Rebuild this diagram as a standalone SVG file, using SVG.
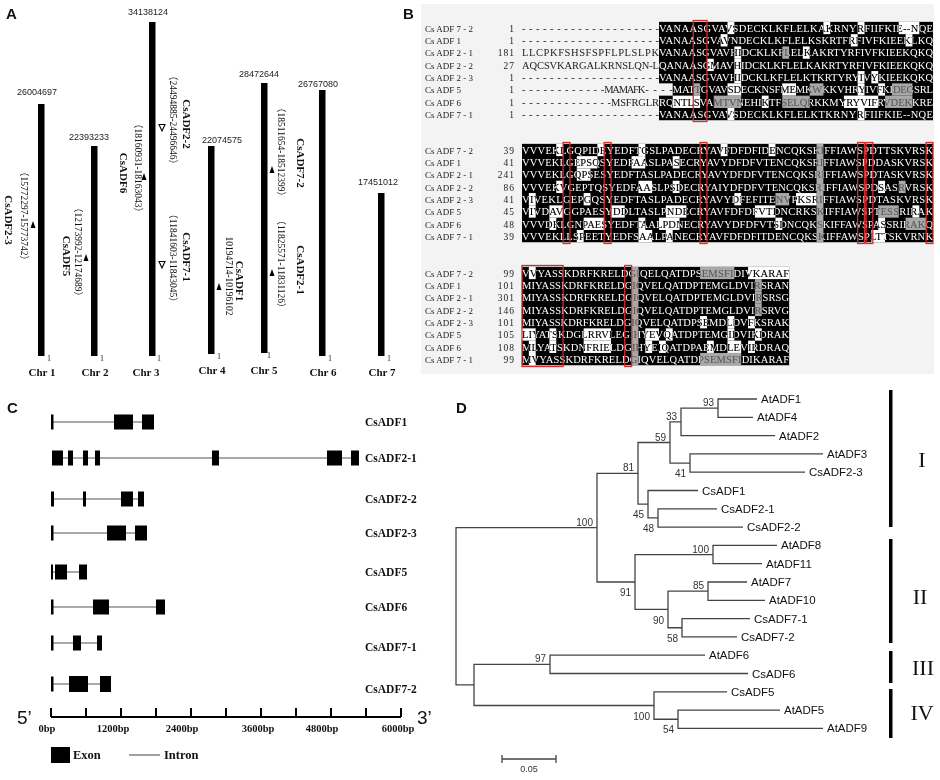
<svg xmlns="http://www.w3.org/2000/svg" width="940" height="780" viewBox="0 0 940 780">
<style>
text{font-family:"Liberation Serif","Times New Roman",serif}
.pl{font-family:"Liberation Sans",Arial,sans-serif;font-weight:bold;font-size:15px;fill:#111}
.top{font-family:"Liberation Sans",Arial,sans-serif;font-size:9px;fill:#222;text-anchor:middle}
.one{font-size:8px;fill:#222}
.chrl{font-size:11px;font-weight:bold;fill:#111;text-anchor:middle}
.bar{fill:#000}
.pos{font-family:"Liberation Serif","Noto Sans CJK SC",serif;font-size:9.5px;fill:#111;text-anchor:middle;dominant-baseline:central}
.gn{font-size:11px;font-weight:bold;fill:#111;text-anchor:middle;dominant-baseline:central}
.tri{fill:#000}
.htri{fill:#fff;stroke:#000;stroke-width:1.1}
.bgB{fill:#f3f3f3}
.blk{fill:#000}
.w{fill:#fff}
.g{fill:#a8a8a8}
.bgc{fill:#f3f3f3}
.nm{font-size:9px;fill:#222}
.num{font-size:9.5px;fill:#222;text-anchor:end;letter-spacing:1px}
.un{font-size:10.5px;fill:#222}
.sq{font-size:10.5px;fill:#fff;mix-blend-mode:difference}
.rb{fill:none;stroke:#d82a2a;stroke-width:1.3}
.intr{stroke:#555;stroke-width:1.1}
.exon{fill:#000}
.glab{font-size:11.5px;font-weight:bold;fill:#111}
.axis{stroke:#000;stroke-width:2.2}
.tick{stroke:#000;stroke-width:2}
.tl{font-size:10.5px;font-weight:bold;fill:#111;text-anchor:middle}
.end{font-family:"Liberation Sans",Arial,sans-serif;font-size:19px;fill:#111}
.leg{font-size:12.5px;font-weight:bold;fill:#111}
.br{fill:none;stroke:#444;stroke-width:1.3}
.lf{font-family:"Liberation Sans",Arial,sans-serif;font-size:11.5px;fill:#111}
.bs{font-family:"Liberation Sans",Arial,sans-serif;font-size:10px;fill:#333;text-anchor:end}
.gb{fill:#000}
.rn{font-size:22px;fill:#111;text-anchor:middle}
.sc{font-family:"Liberation Sans",Arial,sans-serif;font-size:9px;fill:#333;text-anchor:middle}
</style>

<!-- Panel A -->
<g id="panelA">
<text class="pl" x="6" y="19">A</text>
<g id="chr1"><rect class="bar" x="38" y="104" width="6.5" height="252"/><text class="top" x="37" y="95">26004697</text><text class="one" x="47" y="361">1</text><text class="chrl" x="42" y="376">Chr 1</text></g>
<g id="chr2"><rect class="bar" x="91" y="146" width="6.5" height="210"/><text class="top" x="89" y="140">22393233</text><text class="one" x="100" y="361">1</text><text class="chrl" x="95" y="376">Chr 2</text></g>
<g id="chr3"><rect class="bar" x="149" y="22" width="6.5" height="334"/><text class="top" x="148" y="15">34138124</text><text class="one" x="157" y="361">1</text><text class="chrl" x="146" y="376">Chr 3</text></g>
<g id="chr4"><rect class="bar" x="208" y="146" width="6.5" height="208"/><text class="top" x="222" y="143">22074575</text><text class="one" x="217" y="359">1</text><text class="chrl" x="212" y="374">Chr 4</text></g>
<g id="chr5"><rect class="bar" x="261" y="83" width="6.5" height="270"/><text class="top" x="259" y="77">28472644</text><text class="one" x="267" y="358">1</text><text class="chrl" x="264" y="374">Chr 5</text></g>
<g id="chr6"><rect class="bar" x="319" y="90" width="6.5" height="266"/><text class="top" x="318" y="87">26767080</text><text class="one" x="328" y="361">1</text><text class="chrl" x="323" y="376">Chr 6</text></g>
<g id="chr7"><rect class="bar" x="378" y="193" width="6.5" height="163"/><text class="top" x="378" y="185">17451012</text><text class="one" x="387" y="361">1</text><text class="chrl" x="382" y="376">Chr 7</text></g>

<g id="loc-CsADF2-3"><polygon class="tri" points="33,221 30.5,228 35.5,228"/><text class="pos" transform="translate(24,216) rotate(90)">（15772297-15773742）</text><text class="gn" transform="translate(9,220) rotate(90)">CsADF2-3</text></g>
<g id="loc-CsADF5"><polygon class="tri" points="86,254 83.5,261 88.5,261"/><text class="pos" transform="translate(78,252) rotate(90)">（12173992-12174689）</text><text class="gn" transform="translate(67,256) rotate(90)">CsADF5</text></g>
<g id="loc-CsADF6"><polygon class="tri" points="144,173 141.5,180 146.5,180"/><text class="pos" transform="translate(138,168) rotate(90)">（18160931-18163043）</text><text class="gn" transform="translate(124,173) rotate(90)">CsADF6</text></g>
<g id="loc-CsADF2-2"><polygon class="htri" points="159,124.5 165,124.5 162,131"/><text class="pos" transform="translate(173,120) rotate(90)">（24494885-24496646）</text><text class="gn" transform="translate(187,124) rotate(90)">CsADF2-2</text></g>
<g id="loc-CsADF7-1"><polygon class="htri" points="159,261.5 165,261.5 162,268"/><text class="pos" transform="translate(173,258) rotate(90)">（11841603-11843045）</text><text class="gn" transform="translate(187,257) rotate(90)">CsADF7-1</text></g>
<g id="loc-CsADF1"><polygon class="tri" points="219,283 216.5,290 221.5,290"/><text class="pos" transform="translate(229,276) rotate(90)">10194714-10196102</text><text class="gn" transform="translate(240,281) rotate(90)">CsADF1</text></g>
<g id="loc-CsADF7-2"><polygon class="tri" points="272,166 269.5,173 274.5,173"/><text class="pos" transform="translate(281,152) rotate(90)">（18511654-18512399）</text><text class="gn" transform="translate(301,163) rotate(90)">CsADF7-2</text></g>
<g id="loc-CsADF2-1"><polygon class="tri" points="272,269 269.5,276 274.5,276"/><text class="pos" transform="translate(281,264) rotate(90)">（11825571-11831126）</text><text class="gn" transform="translate(301,270) rotate(90)">CsADF2-1</text></g>
</g>

<!-- Panel B -->
<g id="panelB">
<text class="pl" x="403" y="19">B</text>
<rect class="bgB" x="421" y="4" width="513" height="370"/>
<!-- block 1 shading -->
<rect class="blk" x="659" y="21.85" width="274" height="98.4"/>
<rect class="w" x="727.5" y="21.85" width="6.85" height="12.3"/><rect class="w" x="823.4" y="21.85" width="6.85" height="12.3"/><rect class="w" x="857.65" y="21.85" width="6.85" height="12.3"/><rect class="w" x="898.75" y="21.85" width="20.55" height="12.3"/>
<rect class="w" x="720.65" y="34.15" width="6.85" height="12.3"/><rect class="w" x="850.8" y="34.15" width="6.85" height="12.3"/><rect class="w" x="905.6" y="34.15" width="6.85" height="12.3"/>
<rect class="w" x="734.35" y="46.45" width="6.85" height="12.3"/><rect class="g" x="782.3" y="46.45" width="6.85" height="12.3"/><rect class="w" x="802.85" y="46.45" width="6.85" height="12.3"/>
<rect class="w" x="706.95" y="58.75" width="6.85" height="12.3"/><rect class="w" x="734.35" y="58.75" width="6.85" height="12.3"/>
<rect class="w" x="734.35" y="71.05" width="6.85" height="12.3"/><rect class="w" x="857.65" y="71.05" width="6.85" height="12.3"/><rect class="w" x="871.35" y="71.05" width="6.85" height="12.3"/>
<rect class="bgc" x="659" y="83.35" width="13.7" height="12.3"/><rect class="g" x="693.25" y="83.35" width="6.85" height="12.3"/><rect class="w" x="727.5" y="83.35" width="13.7" height="12.3"/><rect class="w" x="782.3" y="83.35" width="13.7" height="12.3"/><rect class="g" x="809.7" y="83.35" width="13.7" height="12.3"/><rect class="w" x="857.65" y="83.35" width="6.85" height="12.3"/><rect class="w" x="878.2" y="83.35" width="6.85" height="12.3"/><rect class="g" x="891.9" y="83.35" width="20.55" height="12.3"/>
<rect class="w" x="672.7" y="95.65" width="27.4" height="12.3"/><rect class="g" x="713.8" y="95.65" width="27.4" height="12.3"/><rect class="w" x="761.75" y="95.65" width="6.85" height="12.3"/><rect class="g" x="782.3" y="95.65" width="27.4" height="12.3"/><rect class="w" x="843.95" y="95.65" width="34.25" height="12.3"/><rect class="g" x="885.05" y="95.65" width="27.4" height="12.3"/>
<rect class="w" x="727.5" y="107.95" width="6.85" height="12.3"/><rect class="w" x="857.65" y="107.95" width="6.85" height="12.3"/>
<!-- block 2 shading -->
<rect class="blk" x="522" y="143.85" width="411" height="98.4"/>
<rect class="g" x="816.55" y="143.85" width="6.85" height="98.4"/>
<rect class="w" x="556.25" y="143.85" width="6.85" height="12.3"/><rect class="w" x="597.35" y="143.85" width="6.85" height="12.3"/><rect class="w" x="638.45" y="143.85" width="6.85" height="12.3"/><rect class="w" x="720.65" y="143.85" width="6.85" height="12.3"/><rect class="w" x="768.6" y="143.85" width="6.85" height="12.3"/>
<rect class="w" x="576.8" y="156.15" width="20.55" height="12.3"/><rect class="w" x="631.6" y="156.15" width="13.7" height="12.3"/><rect class="w" x="672.7" y="156.15" width="6.85" height="12.3"/>
<rect class="w" x="576.8" y="168.45" width="13.7" height="12.3"/>
<rect class="w" x="556.25" y="180.75" width="6.85" height="12.3"/><rect class="w" x="638.45" y="180.75" width="13.7" height="12.3"/><rect class="w" x="672.7" y="180.75" width="6.85" height="12.3"/><rect class="w" x="878.2" y="180.75" width="6.85" height="12.3"/><rect class="g" x="898.75" y="180.75" width="6.85" height="12.3"/>
<rect class="w" x="528.85" y="193.05" width="6.85" height="12.3"/><rect class="w" x="583.65" y="193.05" width="6.85" height="12.3"/><rect class="w" x="734.35" y="193.05" width="6.85" height="12.3"/><rect class="g" x="775.45" y="193.05" width="13.7" height="12.3"/><rect class="w" x="796" y="193.05" width="20.55" height="12.3"/>
<rect class="w" x="528.85" y="205.35" width="6.85" height="12.3"/><rect class="w" x="549.4" y="205.35" width="13.7" height="12.3"/><rect class="w" x="611.05" y="205.35" width="13.7" height="12.3"/><rect class="w" x="665.85" y="205.35" width="20.55" height="12.3"/><rect class="w" x="754.9" y="205.35" width="20.55" height="12.3"/><rect class="g" x="878.2" y="205.35" width="20.55" height="12.3"/><rect class="w" x="912.45" y="205.35" width="6.85" height="12.3"/>
<rect class="w" x="549.4" y="217.65" width="6.85" height="12.3"/><rect class="w" x="583.65" y="217.65" width="20.55" height="12.3"/><rect class="w" x="638.45" y="217.65" width="6.85" height="12.3"/><rect class="w" x="659" y="217.65" width="20.55" height="12.3"/><rect class="w" x="775.45" y="217.65" width="6.85" height="12.3"/><rect class="w" x="878.2" y="217.65" width="6.85" height="12.3"/><rect class="g" x="905.6" y="217.65" width="20.55" height="12.3"/>
<rect class="w" x="576.8" y="229.95" width="6.85" height="12.3"/><rect class="w" x="638.45" y="229.95" width="13.7" height="12.3"/><rect class="w" x="665.85" y="229.95" width="6.85" height="12.3"/><rect class="w" x="871.35" y="229.95" width="13.7" height="12.3"/>
<!-- block 3 shading -->
<rect class="blk" x="522" y="266.85" width="267.15" height="98.4"/>
<rect class="g" x="631.6" y="266.85" width="6.85" height="98.4"/>
<rect class="w" x="528.85" y="266.85" width="6.85" height="12.3"/><rect class="g" x="700.1" y="266.85" width="34.25" height="12.3"/><rect class="w" x="748.05" y="266.85" width="41.1" height="12.3"/>
<rect class="g" x="754.9" y="279.15" width="6.85" height="12.3"/><rect class="g" x="754.9" y="291.45" width="6.85" height="12.3"/><rect class="g" x="754.9" y="303.75" width="6.85" height="12.3"/>
<rect class="w" x="700.1" y="316.05" width="6.85" height="12.3"/><rect class="w" x="727.5" y="316.05" width="6.85" height="12.3"/><rect class="w" x="748.05" y="316.05" width="6.85" height="12.3"/>
<rect class="w" x="522" y="328.35" width="13.7" height="12.3"/><rect class="w" x="549.4" y="328.35" width="6.85" height="12.3"/><rect class="w" x="583.65" y="328.35" width="27.4" height="12.3"/><rect class="w" x="645.3" y="328.35" width="13.7" height="12.3"/><rect class="w" x="665.85" y="328.35" width="6.85" height="12.3"/><rect class="w" x="727.5" y="328.35" width="6.85" height="12.3"/><rect class="w" x="754.9" y="328.35" width="6.85" height="12.3"/>
<rect class="w" x="528.85" y="340.65" width="6.85" height="12.3"/><rect class="w" x="549.4" y="340.65" width="6.85" height="12.3"/><rect class="w" x="583.65" y="340.65" width="27.4" height="12.3"/><rect class="w" x="645.3" y="340.65" width="6.85" height="12.3"/><rect class="w" x="659" y="340.65" width="6.85" height="12.3"/><rect class="w" x="706.95" y="340.65" width="6.85" height="12.3"/><rect class="w" x="727.5" y="340.65" width="13.7" height="12.3"/><rect class="w" x="748.05" y="340.65" width="6.85" height="12.3"/>
<rect class="w" x="528.85" y="352.95" width="6.85" height="12.3"/><rect class="g" x="700.1" y="352.95" width="41.1" height="12.3"/>

<!-- block 1 text -->
<text class="nm" x="425" y="31.7">Cs ADF 7 - 2</text><text class="num" x="515" y="31.7">1</text><text class="un" x="522" y="31.7" textLength="137" lengthAdjust="spacing">--------------------</text><text class="sq" x="659" y="31.7" textLength="274" lengthAdjust="spacing">VANAASGVAVSDECKLKFLELKAKRNYRFIIFKIE--NQE</text>
<text class="nm" x="425" y="44">Cs ADF 1</text><text class="num" x="515" y="44">1</text><text class="un" x="522" y="44" textLength="137" lengthAdjust="spacing">--------------------</text><text class="sq" x="659" y="44" textLength="274" lengthAdjust="spacing">VANAASGVAVNDECKLKFLELKSKRTFRFIVFKIEEKLKQ</text>
<text class="nm" x="425" y="56.3">Cs ADF 2 - 1</text><text class="num" x="515" y="56.3">181</text><text class="un" x="522" y="56.3" textLength="137" lengthAdjust="spacing">LLCPKFSHSFSPFLPLSLPK</text><text class="sq" x="659" y="56.3" textLength="274" lengthAdjust="spacing">VANAASGVAVHIDCKLKFLELKAKRTYRFIVFKIEEKQKQ</text>
<text class="nm" x="425" y="68.6">Cs ADF 2 - 2</text><text class="num" x="515" y="68.6">27</text><text class="un" x="522" y="68.6" textLength="137" lengthAdjust="spacing">AQCSVKARGALKRNSLQN-L</text><text class="sq" x="659" y="68.6" textLength="274" lengthAdjust="spacing">QANAASGMAVHIDCKLKFLELKAKRTYRFIVFKIEEKQKQ</text>
<text class="nm" x="425" y="80.9">Cs ADF 2 - 3</text><text class="num" x="515" y="80.9">1</text><text class="un" x="522" y="80.9" textLength="137" lengthAdjust="spacing">--------------------</text><text class="sq" x="659" y="80.9" textLength="274" lengthAdjust="spacing">VANAASGVAVHIDCKLKFLELKTKRTYRYIVYKIEEKQKQ</text>
<text class="nm" x="425" y="93.2">Cs ADF 5</text><text class="num" x="515" y="93.2">1</text><text class="un" x="522" y="93.2" textLength="82.2" lengthAdjust="spacing">------------</text><text class="un" x="604.2" y="93.2" textLength="41.1" lengthAdjust="spacing">MAMAFK</text><text class="un" x="645.3" y="93.2" textLength="27.4" lengthAdjust="spacing">----</text><text class="sq" x="672.7" y="93.2" textLength="260.3" lengthAdjust="spacing">MATTGVAVSDECKNSFMEMKWKKVHRYIVFKIDEGSRL</text>
<text class="nm" x="425" y="105.5">Cs ADF 6</text><text class="num" x="515" y="105.5">1</text><text class="un" x="522" y="105.5" textLength="89.05" lengthAdjust="spacing">-------------</text><text class="un" x="611.05" y="105.5" textLength="47.95" lengthAdjust="spacing">MSFRGLR</text><text class="sq" x="659" y="105.5" textLength="274" lengthAdjust="spacing">RQNTLSVAMTVNEHIKTFSELQRKKMYRYVIFRVDEKKRE</text>
<text class="nm" x="425" y="117.8">Cs ADF 7 - 1</text><text class="num" x="515" y="117.8">1</text><text class="un" x="522" y="117.8" textLength="137" lengthAdjust="spacing">--------------------</text><text class="sq" x="659" y="117.8" textLength="274" lengthAdjust="spacing">VANAASGVAVSDECKLKFLELKTKRNYRFIIFKIE--NQE</text>
<!-- block 2 text -->
<text class="nm" x="425" y="153.7">Cs ADF 7 - 2</text><text class="num" x="515" y="153.7">39</text><text class="sq" x="522" y="153.7" textLength="411" lengthAdjust="spacing">VVVEKLGQPIDEYEDFTGSLPADECRYAVFDFDFIDENCQKSKIFFIAWSPDTTSKVRSK</text>
<text class="nm" x="425" y="166">Cs ADF 1</text><text class="num" x="515" y="166">41</text><text class="sq" x="522" y="166" textLength="411" lengthAdjust="spacing">VVVEKLGEPSQSYEDFAASLPASECRYAVYDFDFVTENCQKSRIFFIAWSPDDASKVRSK</text>
<text class="nm" x="425" y="178.3">Cs ADF 2 - 1</text><text class="num" x="515" y="178.3">241</text><text class="sq" x="522" y="178.3" textLength="411" lengthAdjust="spacing">VVVEKLGQPSESYEDFTASLPADECRYAVYDFDFVTENCQKSRIFFIAWSPDTASKVRSK</text>
<text class="nm" x="425" y="190.6">Cs ADF 2 - 2</text><text class="num" x="515" y="190.6">86</text><text class="sq" x="522" y="190.6" textLength="411" lengthAdjust="spacing">VVVEKVGEPTQSYEDFAASLPSDECRYAIYDFDFVTENCQKSRIFFIAWSPDSASRVRSK</text>
<text class="nm" x="425" y="202.9">Cs ADF 2 - 3</text><text class="num" x="515" y="202.9">41</text><text class="sq" x="522" y="202.9" textLength="411" lengthAdjust="spacing">VIVEKLGEPGQSYEDFTASLPADECRYAVYDFEFITENVPKSRIFFIAWSPDTASKVRSK</text>
<text class="nm" x="425" y="215.2">Cs ADF 5</text><text class="num" x="515" y="215.2">45</text><text class="sq" x="522" y="215.2" textLength="411" lengthAdjust="spacing">VIVDAVGGPAESYDDLTASLPNDECRYAVFDFDFVTDNCRKSKIFFIAWSPTESSRIRAK</text>
<text class="nm" x="425" y="227.5">Cs ADF 6</text><text class="num" x="515" y="227.5">48</text><text class="sq" x="522" y="227.5" textLength="411" lengthAdjust="spacing">VVVDKLGNPAESYEDFTAALPDNECRYAVYDFDFVTSDNCQKSKIFFAWSPASSRIRAKQ</text>
<text class="nm" x="425" y="239.8">Cs ADF 7 - 1</text><text class="num" x="515" y="239.8">39</text><text class="sq" x="522" y="239.8" textLength="411" lengthAdjust="spacing">VVVEKLLSPEETYEDFSAALPANECRYAVFDFDFITDENCQKSKIFFAWSPLTTSKVRNK</text>
<!-- block 3 text -->
<text class="nm" x="425" y="276.7">Cs ADF 7 - 2</text><text class="num" x="515" y="276.7">99</text><text class="sq" x="522" y="276.7" textLength="267.15" lengthAdjust="spacing">VVYASSKDRFKRELDGIQELQATDPSEMSFIDIVKARAF</text>
<text class="nm" x="425" y="289">Cs ADF 1</text><text class="num" x="515" y="289">101</text><text class="sq" x="522" y="289" textLength="267.15" lengthAdjust="spacing">MIYASSKDRFKRELDGIQVELQATDPTEMGLDVIRSRAN</text>
<text class="nm" x="425" y="301.3">Cs ADF 2 - 1</text><text class="num" x="515" y="301.3">301</text><text class="sq" x="522" y="301.3" textLength="267.15" lengthAdjust="spacing">MIYASSKDRFKRELDGIQVELQATDPTEMGLDVIRSRSG</text>
<text class="nm" x="425" y="313.6">Cs ADF 2 - 2</text><text class="num" x="515" y="313.6">146</text><text class="sq" x="522" y="313.6" textLength="267.15" lengthAdjust="spacing">MIYASSKDRFKRELDGIQVELQATDPTEMGLDVIRSRVG</text>
<text class="nm" x="425" y="325.9">Cs ADF 2 - 3</text><text class="num" x="515" y="325.9">101</text><text class="sq" x="522" y="325.9" textLength="267.15" lengthAdjust="spacing">MIYASSKDRFKRELDGIQVELQATDPSEMDLDVFKSRAK</text>
<text class="nm" x="425" y="338.2">Cs ADF 5</text><text class="num" x="515" y="338.2">105</text><text class="sq" x="522" y="338.2" textLength="267.15" lengthAdjust="spacing">LIYATSKDGLRRVLEGIHYEVQATDPTEMGIDVIKDRAK</text>
<text class="nm" x="425" y="350.5">Cs ADF 6</text><text class="num" x="515" y="350.5">108</text><text class="sq" x="522" y="350.5" textLength="267.15" lengthAdjust="spacing">MLYATSKDNFRIELDGIHYEIQATDPAEMDLEVIRDRAQ</text>
<text class="nm" x="425" y="362.8">Cs ADF 7 - 1</text><text class="num" x="515" y="362.8">99</text><text class="sq" x="522" y="362.8" textLength="267.15" lengthAdjust="spacing">MVYASSKDRFKRELDGIQVELQATDPSEMSFIDIKARAF</text>
<!-- red boxes -->
<rect class="rb" x="693.25" y="20.5" width="13.7" height="101"/>
<rect class="rb" x="563.1" y="142.5" width="6.85" height="101"/>
<rect class="rb" x="604.2" y="142.5" width="6.85" height="101"/>
<rect class="rb" x="700.1" y="142.5" width="6.85" height="101"/>
<rect class="rb" x="857.65" y="142.5" width="6.85" height="101"/>
<rect class="rb" x="866" y="142.5" width="6.85" height="101"/>
<rect class="rb" x="926.15" y="142.5" width="6.85" height="101"/>
<rect class="rb" x="522" y="265.5" width="41.1" height="101"/>
<rect class="rb" x="624.75" y="265.5" width="6.85" height="101"/>
</g>

<!-- Panel C -->
<g id="panelC">
<text class="pl" x="7" y="413">C</text>
<g id="gene-CsADF1"><line class="intr" x1="52" y1="422" x2="154" y2="422"/><rect class="exon" x="51" y="414.5" width="2.5" height="15"/><rect class="exon" x="114" y="414.5" width="19" height="15"/><rect class="exon" x="142" y="414.5" width="12" height="15"/><text class="glab" x="365" y="426">CsADF1</text></g>
<g id="gene-CsADF2-1"><line class="intr" x1="52" y1="458" x2="359" y2="458"/><rect class="exon" x="52" y="450.5" width="11" height="15"/><rect class="exon" x="68" y="450.5" width="5" height="15"/><rect class="exon" x="83" y="450.5" width="5" height="15"/><rect class="exon" x="95" y="450.5" width="5" height="15"/><rect class="exon" x="212" y="450.5" width="7" height="15"/><rect class="exon" x="327" y="450.5" width="15" height="15"/><rect class="exon" x="351" y="450.5" width="8" height="15"/><text class="glab" x="365" y="462">CsADF2-1</text></g>
<g id="gene-CsADF2-2"><line class="intr" x1="51" y1="499" x2="144" y2="499"/><rect class="exon" x="51" y="491.5" width="3" height="15"/><rect class="exon" x="83" y="491.5" width="3" height="15"/><rect class="exon" x="121" y="491.5" width="12" height="15"/><rect class="exon" x="138" y="491.5" width="6" height="15"/><text class="glab" x="365" y="503">CsADF2-2</text></g>
<g id="gene-CsADF2-3"><line class="intr" x1="51" y1="533" x2="147" y2="533"/><rect class="exon" x="51" y="525.5" width="2.5" height="15"/><rect class="exon" x="107" y="525.5" width="19" height="15"/><rect class="exon" x="135" y="525.5" width="12" height="15"/><text class="glab" x="365" y="537">CsADF2-3</text></g>
<g id="gene-CsADF5"><line class="intr" x1="51" y1="572" x2="87" y2="572"/><rect class="exon" x="51" y="564.5" width="2" height="15"/><rect class="exon" x="55" y="564.5" width="12" height="15"/><rect class="exon" x="79" y="564.5" width="8" height="15"/><text class="glab" x="365" y="576">CsADF5</text></g>
<g id="gene-CsADF6"><line class="intr" x1="51" y1="607" x2="165" y2="607"/><rect class="exon" x="51" y="599.5" width="2.5" height="15"/><rect class="exon" x="93" y="599.5" width="16" height="15"/><rect class="exon" x="156" y="599.5" width="9" height="15"/><text class="glab" x="365" y="611">CsADF6</text></g>
<g id="gene-CsADF7-1"><line class="intr" x1="51" y1="643" x2="102" y2="643"/><rect class="exon" x="51" y="635.5" width="2.5" height="15"/><rect class="exon" x="73" y="635.5" width="8" height="15"/><rect class="exon" x="97" y="635.5" width="5" height="15"/><text class="glab" x="365" y="651">CsADF7-1</text></g>
<g id="gene-CsADF7-2"><line class="intr" x1="51" y1="684" x2="111" y2="684"/><rect class="exon" x="51" y="676.5" width="2.5" height="15"/><rect class="exon" x="69" y="676" width="19" height="16"/><rect class="exon" x="100" y="676" width="11" height="16"/><text class="glab" x="365" y="693">CsADF7-2</text></g>
<g id="scale-axis">
<line class="axis" x1="51" y1="717" x2="401" y2="717"/>
<path class="tick" d="M51 708V717M86 708V717M121 708V717M156 708V717M191 708V717M226 708V717M261 708V717M296 708V717M331 708V717M366 708V717M401 708V717"/>
<text class="end" x="17" y="724">5’</text><text class="end" x="417" y="724">3’</text>
<text class="tl" x="47" y="732">0bp</text><text class="tl" x="113" y="732">1200bp</text><text class="tl" x="182" y="732">2400bp</text><text class="tl" x="258" y="732">3600bp</text><text class="tl" x="322" y="732">4800bp</text><text class="tl" x="398" y="732">6000bp</text>
</g>
<g id="legend">
<rect class="exon" x="51" y="747" width="19" height="16"/><text class="leg" x="73" y="759">Exon</text>
<line class="intr" x1="129" y1="755" x2="160" y2="755"/><text class="leg" x="164" y="759">Intron</text>
</g>
</g>

<!-- Panel D -->
<g id="panelD">
<text class="pl" x="456" y="413">D</text>
<g id="connectors">
<path class="br" d="M757 399H718V417.3H753M718 408.15H681V435.6H775M823 453.9H690V472.2H805M681 421.9H670V463.05H690M717 508.8H658V527.1H743M698 490.5H648V517.95H658M670 442.5H638V504.2H648M777 545.4H713V563.7H762M747 582H708V600.3H765M750 618.6H682V636.9H737M708 591.15H668V627.75H682M713 554.55H635V609.45H668M638 473.35H597V582H635M705 655.2H550V673.5H748M780 710.1H678V728.4H823M727 691.8H654V719.25H678M550 664.35H474V705.5H654M597 527.7H456V684.9H474"/>
</g>
<g id="bootstrap">
<text class="bs" x="714" y="406">93</text><text class="bs" x="677" y="420">33</text><text class="bs" x="666" y="440.5">59</text><text class="bs" x="686" y="477">41</text><text class="bs" x="634" y="471">81</text><text class="bs" x="644" y="518">45</text><text class="bs" x="654" y="532">48</text><text class="bs" x="593" y="525.7">100</text><text class="bs" x="709" y="552.5">100</text><text class="bs" x="704" y="589">85</text><text class="bs" x="631" y="596">91</text><text class="bs" x="664" y="623.5">90</text><text class="bs" x="678" y="641.5">58</text><text class="bs" x="546" y="662">97</text><text class="bs" x="650" y="719.5">100</text><text class="bs" x="674" y="733">54</text>
</g>
<g id="leaf-AtADF1"><text class="lf" x="761" y="403">AtADF1</text></g>
<g id="leaf-AtADF4"><text class="lf" x="757" y="421.3">AtADF4</text></g>
<g id="leaf-AtADF2"><text class="lf" x="779" y="439.6">AtADF2</text></g>
<g id="leaf-AtADF3"><text class="lf" x="827" y="457.9">AtADF3</text></g>
<g id="leaf-CsADF2-3"><text class="lf" x="809" y="476.2">CsADF2-3</text></g>
<g id="leaf-CsADF1"><text class="lf" x="702" y="494.5">CsADF1</text></g>
<g id="leaf-CsADF2-1"><text class="lf" x="721" y="512.8">CsADF2-1</text></g>
<g id="leaf-CsADF2-2"><text class="lf" x="747" y="531.1">CsADF2-2</text></g>
<g id="leaf-AtADF8"><text class="lf" x="781" y="549.4">AtADF8</text></g>
<g id="leaf-AtADF11"><text class="lf" x="766" y="567.7">AtADF11</text></g>
<g id="leaf-AtADF7"><text class="lf" x="751" y="586">AtADF7</text></g>
<g id="leaf-AtADF10"><text class="lf" x="769" y="604.3">AtADF10</text></g>
<g id="leaf-CsADF7-1"><text class="lf" x="754" y="622.6">CsADF7-1</text></g>
<g id="leaf-CsADF7-2"><text class="lf" x="741" y="640.9">CsADF7-2</text></g>
<g id="leaf-AtADF6"><text class="lf" x="709" y="659.2">AtADF6</text></g>
<g id="leaf-CsADF6"><text class="lf" x="752" y="677.5">CsADF6</text></g>
<g id="leaf-CsADF5"><text class="lf" x="731" y="695.8">CsADF5</text></g>
<g id="leaf-AtADF5"><text class="lf" x="784" y="714.1">AtADF5</text></g>
<g id="leaf-AtADF9"><text class="lf" x="827" y="732.4">AtADF9</text></g>
<g id="group-I"><rect class="gb" x="889" y="390" width="3.5" height="137"/><text class="rn" x="922" y="467">I</text></g>
<g id="group-II"><rect class="gb" x="889" y="539" width="3.5" height="104"/><text class="rn" x="920" y="604">II</text></g>
<g id="group-III"><rect class="gb" x="889" y="651" width="3.5" height="32"/><text class="rn" x="923" y="675">III</text></g>
<g id="group-IV"><rect class="gb" x="889" y="689" width="3.5" height="49"/><text class="rn" x="922" y="720">IV</text></g>
<g id="scalebar"><path class="br" d="M502 755V763M502 759H556M556 755V763"/><text class="sc" x="529" y="772">0.05</text></g>
</g>
</svg>
